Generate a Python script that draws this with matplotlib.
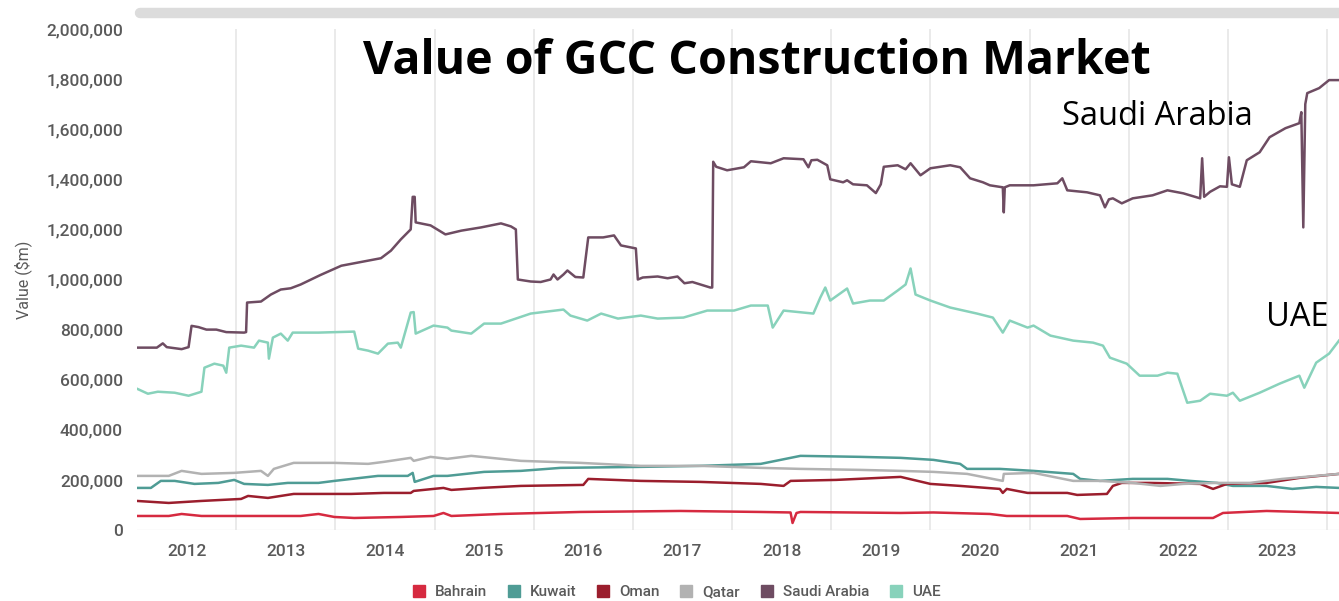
import matplotlib
matplotlib.use("Agg")
import matplotlib.pyplot as plt
from matplotlib.lines import Line2D
from matplotlib.ticker import FuncFormatter, FixedLocator

# values in $m thousands, dates as decimal years
saudi_t = [2012.00, 2012.20, 2012.26, 2012.30, 2012.45, 2012.52, 2012.55, 2012.62, 2012.70, 2012.80,
           2012.90, 2013.08, 2013.10, 2013.11, 2013.25, 2013.35, 2013.45, 2013.55, 2013.65, 2013.85,
           2014.06, 2014.26, 2014.46, 2014.56, 2014.66, 2014.71, 2014.76, 2014.78, 2014.80, 2014.81,
           2014.96, 2015.11, 2015.27, 2015.47, 2015.67, 2015.77, 2015.82, 2015.84, 2015.97, 2016.07,
           2016.17, 2016.20, 2016.24, 2016.30, 2016.34, 2016.42, 2016.50, 2016.55, 2016.70, 2016.81,
           2016.88, 2017.03, 2017.05, 2017.10, 2017.25, 2017.35, 2017.45, 2017.52, 2017.60, 2017.78,
           2017.80, 2017.81, 2017.84, 2017.95, 2018.12, 2018.19, 2018.39, 2018.52, 2018.72, 2018.77,
           2018.80, 2018.86, 2018.96, 2018.99, 2019.12, 2019.16, 2019.22, 2019.36, 2019.45, 2019.50,
           2019.53, 2019.67, 2019.75, 2019.80, 2019.90, 2020.00, 2020.20, 2020.30, 2020.40, 2020.53,
           2020.60, 2020.73, 2020.74, 2020.75, 2020.80, 2021.04, 2021.28, 2021.33, 2021.38, 2021.58,
           2021.71, 2021.76, 2021.80, 2021.84, 2021.93, 2022.04, 2022.24, 2022.39, 2022.55, 2022.72,
           2022.74, 2022.76, 2022.82, 2022.92, 2022.99, 2023.01, 2023.04, 2023.12, 2023.19, 2023.32,
           2023.42, 2023.58, 2023.72, 2023.74, 2023.76, 2023.78, 2023.80, 2023.92, 2024.02, 2024.12]
saudi_v = [728, 728, 745, 730, 722, 730, 815, 810, 800, 800,
           790, 788, 790, 908, 912, 940, 960, 965, 980, 1018,
           1055, 1070, 1085, 1115, 1160, 1180, 1200, 1330, 1330, 1228,
           1216, 1180, 1195, 1208, 1224, 1212, 1200, 1000, 992, 990,
           1000, 1020, 1000, 1020, 1036, 1010, 1008, 1168, 1168, 1176,
           1136, 1124, 1000, 1008, 1012, 1005, 1012, 985, 990, 968,
           968, 1470, 1450, 1436, 1448, 1472, 1464, 1484, 1480, 1448,
           1476, 1478, 1456, 1400, 1388, 1396, 1380, 1376, 1345, 1380,
           1450, 1456, 1440, 1464, 1416, 1444, 1456, 1448, 1404, 1388,
           1376, 1368, 1268, 1368, 1376, 1376, 1384, 1404, 1356, 1348,
           1336, 1288, 1320, 1324, 1304, 1324, 1336, 1356, 1344, 1324,
           1484, 1330, 1350, 1372, 1370, 1488, 1380, 1370, 1476, 1508,
           1568, 1604, 1624, 1668, 1208, 1700, 1744, 1764, 1796, 1796]

uae_t = [2012.00, 2012.11, 2012.21, 2012.38, 2012.52, 2012.65, 2012.68, 2012.78, 2012.87, 2012.90,
         2012.93, 2013.05, 2013.18, 2013.23, 2013.32, 2013.33, 2013.37, 2013.45, 2013.52, 2013.57,
         2013.83, 2014.19, 2014.23, 2014.33, 2014.43, 2014.53, 2014.63, 2014.66, 2014.76, 2014.79,
         2014.81, 2014.99, 2015.13, 2015.17, 2015.37, 2015.50, 2015.67, 2015.97, 2016.30, 2016.37,
         2016.54, 2016.68, 2016.85, 2017.08, 2017.25, 2017.51, 2017.75, 2018.02, 2018.19, 2018.36,
         2018.41, 2018.52, 2018.82, 2018.89, 2018.94, 2018.99, 2019.16, 2019.22, 2019.39, 2019.53,
         2019.67, 2019.75, 2019.80, 2019.85, 2020.00, 2020.20, 2020.47, 2020.63, 2020.73, 2020.80,
         2020.98, 2021.04, 2021.21, 2021.44, 2021.64, 2021.74, 2021.81, 2021.98, 2022.11, 2022.29,
         2022.39, 2022.49, 2022.59, 2022.72, 2022.82, 2022.99, 2023.05, 2023.12, 2023.32, 2023.52,
         2023.72, 2023.77, 2023.89, 2024.02, 2024.12]
uae_v = [564, 544, 552, 548, 536, 552, 648, 664, 656, 628,
         728, 736, 728, 756, 748, 684, 768, 784, 756, 788,
         788, 792, 724, 716, 704, 744, 748, 728, 868, 870,
         784, 816, 808, 796, 784, 824, 824, 864, 880, 856,
         836, 864, 844, 856, 844, 848, 876, 876, 896, 896,
         808, 876, 864, 928, 968, 916, 964, 904, 916, 916,
         956, 980, 1044, 940, 916, 888, 864, 848, 788, 836,
         808, 816, 776, 756, 748, 736, 688, 664, 616, 616,
         628, 624, 508, 516, 544, 536, 548, 516, 548, 584,
         616, 568, 668, 704, 756]

qatar_t = [2012.00, 2012.32, 2012.45, 2012.65, 2012.98, 2013.25, 2013.32, 2013.38, 2013.58, 2013.99,
           2014.33, 2014.49, 2014.76, 2014.79, 2014.96, 2015.13, 2015.37, 2015.87, 2016.47, 2017.08,
           2017.68, 2018.29, 2018.69, 2019.29, 2019.70, 2020.03, 2020.37, 2020.73, 2020.74, 2021.04,
           2021.44, 2021.71, 2022.04, 2022.32, 2022.55, 2022.89, 2023.22, 2023.55, 2023.89, 2024.12]
qatar_v = [216, 216, 236, 224, 228, 236, 216, 244, 268, 268,
           264, 272, 288, 276, 292, 284, 296, 276, 268, 256,
           256, 248, 244, 240, 236, 232, 224, 196, 224, 228,
           196, 196, 188, 176, 184, 188, 188, 204, 216, 224]

kuwait_t = [2012.00, 2012.14, 2012.24, 2012.38, 2012.58, 2012.82, 2012.98, 2013.08, 2013.32, 2013.52,
            2013.83, 2013.99, 2014.43, 2014.73, 2014.78, 2014.80, 2014.99, 2015.13, 2015.50, 2015.87,
            2016.27, 2017.08, 2017.68, 2018.29, 2018.69, 2019.29, 2019.70, 2020.03, 2020.30, 2020.37,
            2020.70, 2021.04, 2021.44, 2021.51, 2021.71, 2022.04, 2022.39, 2022.62, 2022.89, 2023.05,
            2023.39, 2023.65, 2023.89, 2024.12]
kuwait_v = [168, 168, 196, 196, 184, 188, 200, 184, 180, 188,
            188, 196, 216, 216, 228, 192, 216, 216, 232, 236,
            248, 252, 256, 264, 296, 292, 288, 280, 264, 244,
            244, 236, 224, 204, 196, 204, 204, 196, 188, 176,
            176, 164, 172, 168]

oman_t = [2012.00, 2012.32, 2012.65, 2013.05, 2013.12, 2013.32, 2013.58, 2014.16, 2014.49, 2014.76,
          2014.79, 2014.99, 2015.09, 2015.17, 2015.47, 2015.87, 2016.50, 2016.55, 2017.08, 2017.68,
          2018.29, 2018.52, 2018.59, 2019.05, 2019.70, 2020.00, 2020.30, 2020.70, 2020.73, 2020.77,
          2020.98, 2021.38, 2021.48, 2021.78, 2021.84, 2021.93, 2022.21, 2022.72, 2022.85, 2022.99,
          2023.39, 2023.72, 2024.12]
oman_v = [116, 108, 116, 124, 136, 128, 144, 144, 148, 148,
          156, 164, 168, 160, 168, 176, 180, 204, 196, 192,
          184, 176, 196, 200, 212, 184, 176, 164, 148, 164,
          148, 148, 140, 144, 176, 188, 188, 184, 164, 184,
          188, 208, 224]

bahrain_t = [2012.00, 2012.32, 2012.45, 2012.65, 2013.25, 2013.65, 2013.83, 2013.99, 2014.19, 2014.66,
             2014.99, 2015.09, 2015.17, 2015.67, 2016.47, 2017.48, 2018.29, 2018.59, 2018.61, 2018.65,
             2018.69, 2019.70, 2020.03, 2020.60, 2020.77, 2021.38, 2021.51, 2022.04, 2022.85, 2022.95,
             2023.39, 2024.12]
bahrain_v = [56, 56, 64, 56, 56, 56, 64, 52, 48, 52,
             56, 68, 56, 64, 72, 76, 72, 70, 28, 68,
             72, 68, 70, 64, 56, 56, 44, 48, 48, 68,
             76, 68]

years = list(range(2012, 2024))
countries = ["Bahrain", "Kuwait", "Oman", "Qatar", "Saudi Arabia", "UAE"]
colors = ["#d62a40", "#4f9c95", "#9b1e2d", "#b2b2b2", "#6e4c62", "#88d2bb"]
series = [(bahrain_t, bahrain_v), (kuwait_t, kuwait_v), (oman_t, oman_v),
          (qatar_t, qatar_v), (saudi_t, saudi_v), (uae_t, uae_v)]

plt.rcParams["font.family"] = ["Roboto", "DejaVu Sans"]
plt.rcParams["font.weight"] = "medium"

fig = plt.figure(figsize=(13.39, 6.01), dpi=100)
ax = fig.add_axes([137 / 1339, 71 / 601, 1 - 137 / 1339, 501 / 601])

for (t, v), c in zip(series, colors):
    ax.plot(t, [x * 1000 for x in v], color=c, lw=1.8, solid_joinstyle="round")

ax.set_xlim(2012.0, 2024.12)
ax.set_ylim(0, 2_000_000)
ax.set_yticks(range(0, 2_000_001, 200_000))
ax.yaxis.set_major_formatter(FuncFormatter(lambda v, p: f"{int(v):,}"))
ax.set_xticks([y + 0.5 for y in years])
ax.set_xticklabels([str(y) for y in years])
ax.xaxis.set_minor_locator(FixedLocator(range(2013, 2025)))
ax.grid(which="minor", axis="x", color="#e6e6e6", lw=1.2)
ax.tick_params(which="both", length=0)
ax.tick_params(axis="y", labelsize=12.5, labelcolor="#5a5a5a", pad=10)
ax.tick_params(axis="x", labelsize=12.5, labelcolor="#5a5a5a", pad=10)
for s in ax.spines.values():
    s.set_visible(False)
ax.axhline(0, color="#eeeeee", lw=1, zorder=0)
ax.set_ylabel("Value ($m)", fontsize=11.5, color="#5a5a5a", labelpad=10)

# scroll bar on top
fig.add_artist(Line2D([140 / 1339, 1.0], [1 - 13 / 601, 1 - 13 / 601], color="#dcdcdc",
                      lw=7.5, solid_capstyle="round"))

fig.text(757 / 1339, 1 - 61 / 601, "Value of GCC Construction Market", ha="center", va="center",
         fontsize=33.5, fontweight="bold", family=["Open Sans", "DejaVu Sans"])
fig.text(1062 / 1339, 1 - 116 / 601, "Saudi Arabia", ha="left", va="center",
         fontsize=23.5, fontweight="normal", family=["Open Sans", "DejaVu Sans"])
fig.text(1266 / 1339, 1 - 318 / 601, "UAE", ha="left", va="center",
         fontsize=23.5, fontweight="normal", family=["Open Sans", "DejaVu Sans"])

handles = [Line2D([], [], marker="s", ls="", color=c, markersize=8) for c in colors]
fig.legend(handles, countries, loc="center", bbox_to_anchor=(672 / 1339, 1 - 592 / 601), ncol=6,
           frameon=False, fontsize=11, handletextpad=0.05, columnspacing=0.75,
           labelcolor="#5a5a5a")

fig.savefig("out.png", dpi=100, facecolor="white")
